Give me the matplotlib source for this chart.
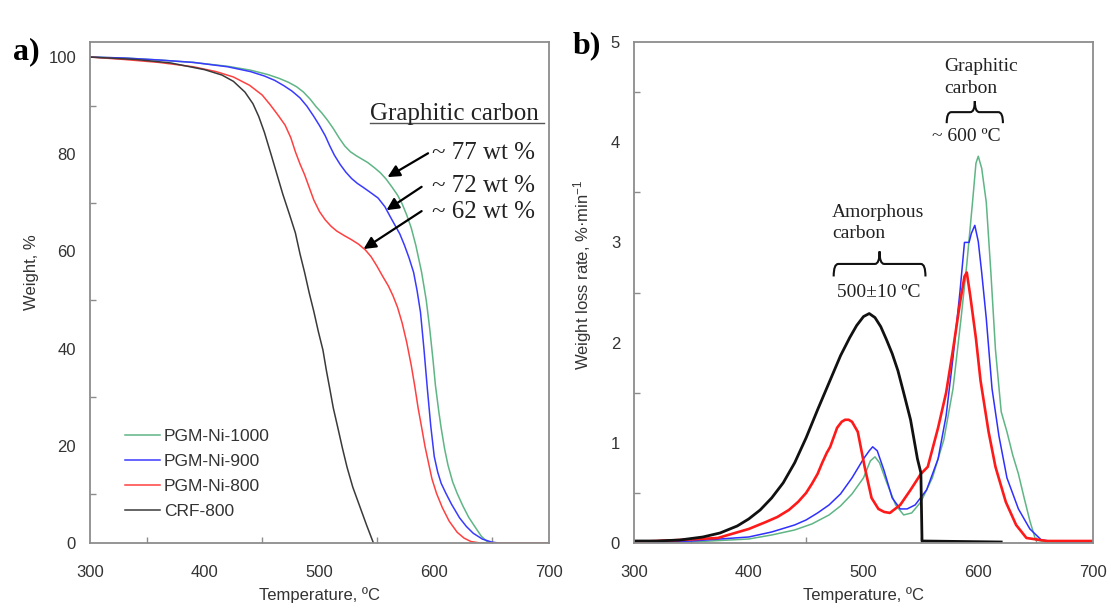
import matplotlib
matplotlib.use("Agg")
import matplotlib.pyplot as plt
from matplotlib.path import Path
from matplotlib.patches import PathPatch

plt.rcParams['font.family'] = ['Liberation Sans', 'DejaVu Sans']
plt.rcParams['mathtext.fontset'] = 'custom'
plt.rcParams['mathtext.rm'] = 'Liberation Sans'
plt.rcParams['mathtext.it'] = 'Liberation Sans:italic'

# ---------------- data: TGA (panel a) ----------------
series_names = ["PGM-Ni-1000", "PGM-Ni-900", "PGM-Ni-800", "CRF-800"]

tga_t_1000 = [300, 330, 360, 390, 420, 440, 455, 465, 473, 480, 486, 492, 497, 502, 507, 512, 517, 522, 527, 532, 537, 542, 548, 553, 558, 563, 568, 572, 576, 580, 584, 589, 593, 596, 599, 601, 604, 606, 609, 612, 616, 620, 625, 630, 635, 641, 645, 648]
tga_w_1000 = [100, 99.8, 99.4, 98.9, 98.1, 97.3, 96.4, 95.6, 94.8, 93.9, 92.8, 91.3, 89.8, 88.5, 87.0, 85.3, 83.4, 81.7, 80.5, 79.7, 79.0, 78.3, 77.2, 76.2, 74.9, 73.3, 71.6, 69.8, 67.5, 64.8, 61.2, 55.7, 50.0, 44.2, 37.5, 32.5, 27.0, 23.7, 19.4, 16.0, 12.6, 10.2, 7.6, 5.3, 3.5, 1.4, 0.5, 0]

tga_t_900 = [300, 330, 360, 390, 420, 440, 452, 461, 469, 476, 483, 489, 495, 500, 505, 509, 513, 518, 523, 528, 533, 538, 544, 551, 557, 562, 566, 570, 574, 578, 582, 585, 588, 591, 594, 597, 600, 603, 606, 610, 615, 622, 628, 634, 642, 650, 656]
tga_w_900 = [100, 99.8, 99.4, 98.9, 98.0, 97.0, 96.1, 95.2, 94.1, 93.0, 91.6, 89.9, 87.8, 85.9, 83.8, 81.7, 79.8, 77.9, 76.3, 75.0, 74.0, 73.2, 72.2, 71.0, 69.2, 67.0, 65.3, 63.6, 61.3, 58.7, 55.7, 52.0, 47.5, 40.0, 31.7, 24.0, 17.8, 14.6, 12.3, 10.3, 8.0, 5.2, 3.4, 2.0, 0.8, 0.2, 0]

tga_t_800 = [300, 330, 360, 390, 410, 425, 439, 450, 457, 464, 470, 475, 479, 483, 487, 491, 495, 500, 505, 510, 515, 522, 528, 534, 540, 545, 550, 555, 560, 564, 568, 572, 576, 580, 583, 586, 589, 592, 595, 598, 602, 607, 613, 620, 626, 632, 640, 660, 700]
tga_w_800 = [100, 99.5, 98.9, 98.0, 97.0, 95.9, 94.2, 92.2, 90.2, 88.0, 86.0, 83.4, 80.5, 78.0, 75.8, 73.2, 70.6, 68.2, 66.5, 65.2, 64.2, 63.2, 62.4, 61.5, 60.3, 58.9, 57.0, 54.9, 52.9, 50.9, 48.5, 45.3, 41.3, 36.5, 32.3, 27.7, 23.8, 19.8, 16.5, 13.2, 10.2, 7.3, 4.5, 2.2, 1.0, 0.3, 0, 0, 0]

tga_t_crf = [300, 340, 370, 400, 415, 425, 435, 442, 447, 452, 458, 463, 468, 474, 479, 483, 487, 491, 495, 499, 503, 506, 509, 512, 516, 520, 524, 529, 535, 541, 547]
tga_w_crf = [100, 99.5, 98.8, 97.4, 96.3, 95.0, 92.8, 90.4, 87.8, 84.5, 79.8, 75.8, 71.8, 67.5, 63.8, 59.5, 55.7, 51.5, 47.7, 43.5, 39.7, 35.5, 31.7, 27.8, 23.7, 19.5, 15.6, 11.5, 7.6, 3.7, 0]

# ---------------- data: DTG (panel b) ----------------
dtg_t_1000 = [300, 350, 400, 420, 440, 455, 470, 480, 490, 500, 506, 510, 514, 520, 528, 535, 542, 550, 560, 570, 578, 585, 590, 595, 598, 600, 603, 607, 611, 615, 620, 625, 630, 635, 640, 645, 650, 660, 700]
dtg_r_1000 = [0.0, 0.01, 0.04, 0.08, 0.13, 0.19, 0.28, 0.37, 0.49, 0.65, 0.82, 0.86, 0.80, 0.61, 0.38, 0.28, 0.30, 0.41, 0.65, 1.03, 1.54, 2.24, 2.78, 3.40, 3.79, 3.86, 3.74, 3.40, 2.70, 1.93, 1.31, 1.11, 0.88, 0.69, 0.45, 0.22, 0.03, 0.01, 0.0]

dtg_t_900 = [300, 350, 400, 420, 440, 450, 460, 470, 480, 490, 500, 505, 508, 512, 518, 525, 532, 538, 545, 555, 565, 572, 578, 584, 588, 592, 594, 597, 600, 603, 607, 612, 618, 625, 635, 645, 655, 670, 700]
dtg_r_900 = [0.0, 0.02, 0.06, 0.11, 0.18, 0.23, 0.30, 0.38, 0.49, 0.65, 0.84, 0.92, 0.96, 0.92, 0.72, 0.45, 0.34, 0.34, 0.38, 0.53, 0.84, 1.27, 1.85, 2.50, 3.00, 3.00, 3.09, 3.17, 3.01, 2.70, 2.24, 1.54, 1.07, 0.65, 0.34, 0.14, 0.03, 0.01, 0.0]

dtg_t_800 = [300, 340, 373, 400, 415, 425, 435, 443, 450, 455, 460, 464, 468, 471, 477, 481, 484, 487, 490, 495, 501, 507, 513, 518, 523, 532, 541, 550, 556, 565, 572, 578, 584, 588, 590, 593, 598, 602, 609, 615, 624, 633, 642, 660, 700]
dtg_r_800 = [0.01, 0.03, 0.05, 0.14, 0.21, 0.26, 0.33, 0.41, 0.50, 0.59, 0.69, 0.80, 0.90, 0.96, 1.15, 1.21, 1.23, 1.23, 1.21, 1.11, 0.76, 0.45, 0.34, 0.31, 0.30, 0.38, 0.53, 0.69, 0.76, 1.15, 1.50, 1.93, 2.39, 2.66, 2.70, 2.47, 2.04, 1.62, 1.11, 0.76, 0.41, 0.18, 0.05, 0.02, 0.02]

dtg_t_crf = [300, 320, 340, 360, 375, 390, 400, 410, 420, 430, 440, 450, 460, 470, 480, 488, 494, 500, 505, 510, 515, 520, 525, 530, 535, 541, 547, 550, 551, 620]
dtg_r_crf = [0.02, 0.02, 0.03, 0.06, 0.10, 0.17, 0.24, 0.33, 0.45, 0.60, 0.80, 1.05, 1.33, 1.60, 1.87, 2.05, 2.17, 2.26, 2.29, 2.25, 2.16, 2.03, 1.89, 1.72, 1.50, 1.23, 0.84, 0.70, 0.02, 0.01]

colors = ["#5fb585", "#3a3aff", "#ff4040", "#3a3a3a"]
frame_c = "#8c8c8c"
tick_c = "#333333"

fig = plt.figure(figsize=(11.11, 6.09), dpi=100)
axA = fig.add_axes([90/1111, 66/609, 459/1111, 501/609])
axB = fig.add_axes([634/1111, 66/609, 459/1111, 501/609])

def style(ax, xt, xminor, yt, yminor, xlim, ylim):
    ax.set_xlim(*xlim)
    ax.set_ylim(*ylim)
    ax.set_xticks(xt)
    ax.set_xticks(xminor, minor=True)
    ax.set_yticks(yt)
    ax.set_yticks(yminor, minor=True)
    for s in ax.spines.values():
        s.set_color(frame_c)
        s.set_linewidth(1.3)
    ax.tick_params(which='major', length=0, labelsize=12, colors=tick_c)
    ax.tick_params(axis='x', which='major', pad=16)
    ax.tick_params(axis='y', which='major', pad=10)
    ax.tick_params(which='minor', direction='in', length=4, width=1, color=frame_c)

# ---- panel a ----
tga = [(tga_t_1000, tga_w_1000), (tga_t_900, tga_w_900), (tga_t_800, tga_w_800), (tga_t_crf, tga_w_crf)]
for (t, w), c, n in zip(tga, colors, series_names):
    axA.plot(t, w, color=c, lw=1.1, label=n)
style(axA, [300, 400, 500, 600, 700], [350, 450, 550, 650],
      [0, 20, 40, 60, 80, 100], [10, 30, 50, 70, 90], (300, 700), (0, 103.1))
axA.set_xlabel("Temperature, ºC", fontsize=12, color=tick_c)
axA.set_ylabel("Weight, %", fontsize=12, color=tick_c)
axA.xaxis.set_label_coords(0.5, -0.088)
axA.yaxis.set_label_coords(-0.111, 0.54)
leg = axA.legend(loc='upper left', bbox_to_anchor=(0.076, 0.228), frameon=False,
                 fontsize=12.5, handlelength=2.0, handletextpad=0.25,
                 labelspacing=0.57, borderpad=0, borderaxespad=0)
for txt in leg.get_texts():
    txt.set_color(tick_c)

serif = ['Liberation Serif', 'DejaVu Serif']
axA.text(544, 88.3, "Graphitic carbon", family=serif, fontsize=18, color='#222222',
         ha='left', va='center')
axA.plot([544, 696], [86.4, 86.4], color='#555555', lw=1.0, clip_on=False)
ann = [("~ 77 wt %", 80.2, (594.6, 80.2), (559.3, 75.3)),
       ("~ 72 wt %", 73.5, (589.0, 73.3), (558.4, 68.5)),
       ("~ 62 wt %", 68.2, (589.0, 68.3), (538.4, 60.5))]
for label, ty, tail, head in ann:
    axA.text(598, ty, label, family=serif, fontsize=18, color='#222222', ha='left', va='center')
    axA.annotate("", xy=head, xytext=tail,
                 arrowprops=dict(arrowstyle='-|>', color='black', lw=1.6, mutation_scale=18,
                                 shrinkA=0, shrinkB=0))

# ---- panel b ----
dtg = [(dtg_t_1000, dtg_r_1000, 1.1), (dtg_t_900, dtg_r_900, 1.1),
       (dtg_t_800, dtg_r_800, 1.9), (dtg_t_crf, dtg_r_crf, 2.0)]
bcolors = ["#5fb585", "#2f2fff", "#ff1a1a", "#111111"]
for (t, r, lw), c in zip(dtg, bcolors):
    axB.plot(t, r, color=c, lw=lw)
style(axB, [300, 400, 500, 600, 700], [350, 450, 550, 650],
      [0, 1, 2, 3, 4, 5], [0.5, 1.5, 2.5, 3.5, 4.5], (300, 700), (0, 5))
axB.set_xlabel("Temperature, ºC", fontsize=12, color=tick_c)
axB.set_ylabel("Weight loss rate, %·min$^{\\mathregular{-1}}$", fontsize=12, color=tick_c)
axB.xaxis.set_label_coords(0.5, -0.088)
axB.yaxis.set_label_coords(-0.087, 0.535)

def brace(ax, x0, x1, y, h, r):
    xc = 0.5 * (x0 + x1)
    ym = y + h / 2
    verts = [(x0, y), (x0, ym), (x0 + r, ym),
             (xc - r, ym), (xc, ym), (xc, y + h),
             (xc, ym), (xc + r, ym),
             (x1 - r, ym), (x1, ym), (x1, y)]
    codes = [Path.MOVETO, Path.CURVE3, Path.CURVE3,
             Path.LINETO, Path.CURVE3, Path.CURVE3,
             Path.CURVE3, Path.CURVE3,
             Path.LINETO, Path.CURVE3, Path.CURVE3]
    ax.add_patch(PathPatch(Path(verts, codes), fill=False, lw=1.5, color='#111111'))

brace(axB, 474, 554, 2.66, 0.25, 4)
brace(axB, 572.5, 621.5, 4.19, 0.22, 4)

axB.text(472.5, 3.30, "Amorphous", family=serif, fontsize=14, color='#222222', ha='left', va='center')
axB.text(472.5, 3.09, "carbon", family=serif, fontsize=14, color='#222222', ha='left', va='center')
axB.text(513, 2.50, "500±10 ºC", family=serif, fontsize=14, color='#222222', ha='center', va='center')
axB.text(570, 4.76, "Graphitic", family=serif, fontsize=14, color='#222222', ha='left', va='center')
axB.text(570, 4.54, "carbon", family=serif, fontsize=14, color='#222222', ha='left', va='center')
axB.text(590, 4.06, "~ 600 ºC", family=serif, fontsize=14, color='#222222', ha='center', va='center')

fig.text(13/1111, 1 - 59/609, "a)", family=serif, fontsize=23, fontweight='bold', ha='left', va='baseline')
fig.text(573/1111, 1 - 53/609, "b)", family=serif, fontsize=23, fontweight='bold', ha='left', va='baseline')

fig.savefig("out.png", dpi=100, facecolor='white')
